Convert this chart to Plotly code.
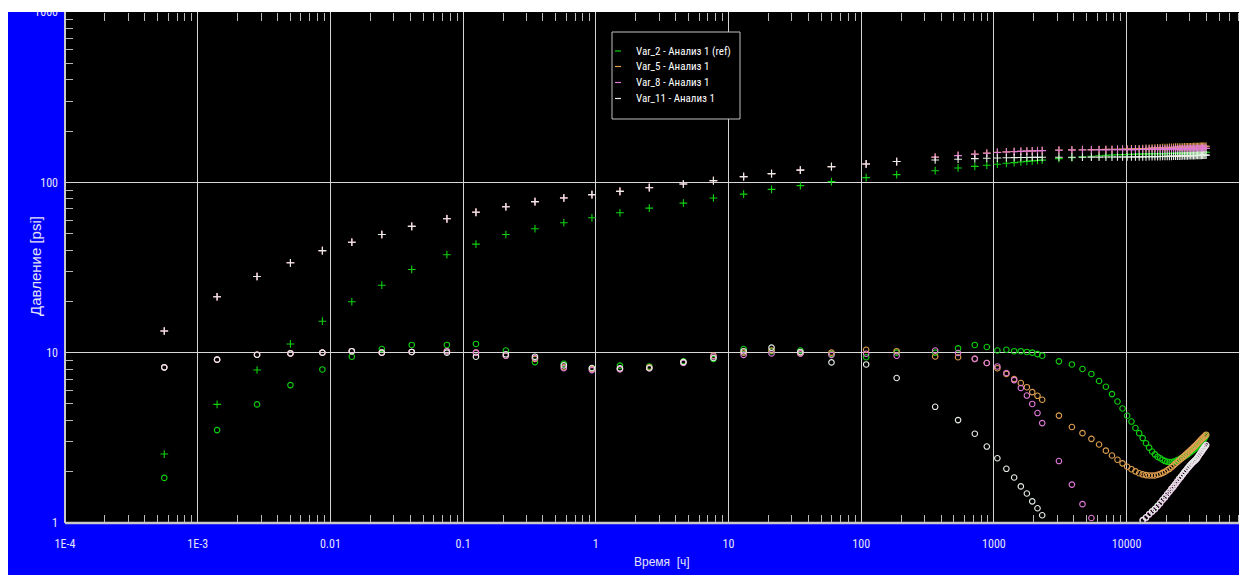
import plotly.graph_objects as go

# ---------------- data ----------------
time_h = [0.00056, 0.0014, 0.0028, 0.0050, 0.0087, 0.0145, 0.0244, 0.041, 0.0755, 0.125,
          0.21, 0.348, 0.574, 0.935, 1.52, 2.53, 4.57, 7.7, 13.0, 21.1,
          34.8, 59.7, 109, 185, 361, 537, 718, 884, 1062, 1242,
          1421, 1596, 1772, 1945, 2131, 2312,
          3090, 3870, 4650, 5430, 6200, 6980, 7760, 8540, 9320, 10100,
          10880, 11660, 12440, 13220, 14000, 14780, 15560, 16340, 17120, 17900,
          18680, 19460, 20240, 21020, 21800, 22580, 23360, 24140, 24920, 25700,
          26480, 27260, 28040, 28820, 29600, 30380, 31160, 31940, 32720, 33500,
          34280, 35060, 35840, 36620, 37400, 38180, 38960, 39740]

# pressure (+)
p_var2 = [2.54, 4.97, 7.91, 11.25, 15.3, 19.9, 24.9, 30.8, 37.6, 43.4,
          49.4, 53.4, 57.9, 61.9, 66.3, 70.6, 75.5, 80.9, 85.3, 90.9,
          95.6, 101, 106.6, 111, 117, 121.5, 124, 126, 127.8, 129.3,
          130.6, 131.7, 132.7, 133.6, 134.4, 135.1,
          137.7, 139.5, 141.0, 142.2, 143.2, 144.0, 144.6, 145.1, 145.5, 145.8,
          146.1, 146.3, 146.5, 146.7, 146.9, 147.0, 147.1, 147.2, 147.3, 147.4,
          147.5, 147.6, 147.7, 147.8, 147.9, 148.0, 148.1, 148.2, 148.3, 148.4,
          148.5, 148.6, 148.7, 148.8, 148.9, 149.0, 149.1, 149.2, 149.3, 149.4,
          149.5, 149.6, 149.7, 149.8, 149.9, 150.0, 150.1, 150.2]
p_var5 = [13.4, 21.3, 28.0, 33.7, 39.7, 44.5, 49.4, 55.1, 61.3, 66.9,
          71.9, 77.0, 81.2, 84.7, 88.5, 93.3, 97.8, 102.4, 108, 112.5,
          118, 123.7, 128.2, 132.4, 140.6, 143.8, 146.5, 148.5, 150.1, 150.9,
          151.6, 152.2, 152.7, 153.1, 153.5, 153.8,
          154.8, 155.2, 155.5, 155.7, 155.9, 156.1, 156.3, 156.5, 156.7, 156.9,
          157.1, 157.3, 157.5, 157.8, 158.1, 158.4, 158.7, 159.0, 159.3, 159.5,
          159.7, 159.9, 160.1, 160.3, 160.5, 160.7, 160.8, 160.9, 161.0, 161.1,
          161.2, 161.3, 161.4, 161.5, 161.6, 161.7, 161.8, 161.9, 162.0, 162.1,
          162.2, 162.3, 162.4, 162.5, 162.6, 162.7, 162.8, 162.9]
p_var8 = [13.4, 21.3, 28.0, 33.7, 39.7, 44.5, 49.4, 55.1, 61.1, 66.7,
          71.9, 77.0, 80.9, 84.7, 88.5, 93.0, 97.8, 102.4, 108, 112.5,
          118, 123.7, 128.2, 132.4, 140.3, 143.5, 146.2, 148.2, 149.8, 150.6,
          151.3, 151.9, 152.4, 152.8, 153.2, 153.5,
          154.2, 154.5, 154.7, 154.9, 155.0, 155.1, 155.2, 155.3, 155.4, 155.5,
          155.6, 155.7, 155.8, 155.9, 156.0, 156.1, 156.2, 156.3, 156.4, 156.5,
          156.6, 156.7, 156.8, 156.9, 156.9, 157.0, 157.1, 157.1, 157.2, 157.3,
          157.3, 157.4, 157.5, 157.5, 157.6, 157.7, 157.7, 157.8, 157.8, 157.9,
          157.9, 158.0, 158.0, 158.1, 158.1, 158.2, 158.2, 158.3]
p_var11 = [13.4, 21.3, 28.0, 33.7, 39.7, 44.5, 49.4, 55.1, 61.1, 66.7,
           71.9, 77.0, 80.9, 84.7, 88.5, 93.0, 97.8, 102.4, 108, 112.5,
           118, 123.7, 128.2, 132.4, 135.3, 136.7, 137.7, 138.4, 138.9, 139.3,
           139.6, 139.8, 140.0, 140.1, 140.2, 140.3,
           140.4, 140.5, 140.5, 140.6, 140.6, 140.7, 140.7, 140.8, 140.8, 140.9,
           140.9, 141.0, 141.0, 141.1, 141.2, 141.3, 141.4, 141.5, 141.6, 141.7,
           141.8, 141.9, 142.0, 142.1, 142.2, 142.3, 142.4, 142.5, 142.6, 142.7,
           142.8, 142.9, 143.0, 143.1, 143.2, 143.3, 143.4, 143.5, 143.6, 143.7,
           143.8, 143.9, 144.0, 144.1, 144.2, 144.3, 144.4, 144.5]

# derivative (o)
d_var2 = [1.84, 3.51, 4.97, 6.45, 7.97, 9.47, 10.5, 11.1, 11.1, 11.25,
          10.3, 8.8, 8.6, 8.1, 8.39, 8.3, 8.9, 9.2, 10.5, 10.2,
          10.3, 9.8, 9.4, 10.0, 10.0, 10.6, 11.1, 10.8, 10.3, 10.4,
          10.2, 10.2, 10.1, 10.0, 9.8, 9.6,
          8.89, 8.53, 8.02, 7.50, 6.82, 6.31, 5.71, 5.17, 4.70, 4.26,
          3.94, 3.61, 3.37, 3.15, 2.94, 2.77, 2.63, 2.53, 2.45, 2.40,
          2.35, 2.31, 2.29, 2.28, 2.28, 2.29, 2.31, 2.34, 2.36, 2.40,
          2.43, 2.46, 2.49, 2.53, 2.57, 2.61, 2.65, 2.69, 2.73, 2.78,
          2.83, 2.88, 2.93, 2.98, 3.03, 3.10, 3.18, 3.27]
d_var5 = [8.2, 9.1, 9.73, 9.9, 10.0, 10.2, 10.0, 10.1, 10.2, 10.0,
          9.6, 9.2, 8.2, 8.0, 8.0, 8.2, 8.8, 9.6, 10.0, 10.3,
          9.9, 10.0, 10.4, 10.2, 9.5, 9.4, 9.2, 8.7, 8.1, 7.5,
          7.0, 6.63, 6.27, 5.87, 5.58, 5.29,
          4.27, 3.66, 3.37, 3.12, 2.89, 2.66, 2.49, 2.35, 2.24, 2.14,
          2.07, 2.01, 1.96, 1.93, 1.91, 1.90, 1.90, 1.90, 1.92, 1.94,
          1.97, 2.00, 2.04, 2.08, 2.13, 2.18, 2.23, 2.28, 2.33, 2.38,
          2.43, 2.48, 2.53, 2.58, 2.63, 2.68, 2.73, 2.78, 2.83, 2.88,
          2.94, 2.99, 3.05, 3.10, 3.15, 3.20, 3.25, 3.30]
d_var8 = [8.2, 9.1, 9.73, 9.9, 10.0, 10.2, 10.0, 10.1, 10.2, 10.0,
          9.6, 9.3, 8.1, 7.9, 8.0, 8.1, 8.7, 9.5, 9.7, 9.9,
          9.9, 9.7, 9.85, 9.6, 10.3, 9.95, 9.2, 8.7, 8.3, 7.6,
          6.9, 6.2, 5.6, 5.0, 4.42, 3.86,
          2.31, 1.68, 1.29, 1.07, None, None, None, None, None, None,
          None, None, None, 1.03, 1.07, 1.12, 1.16, 1.20, 1.25, 1.30,
          1.36, 1.41, 1.47, 1.52, 1.58, 1.63, 1.69, 1.75, 1.81, 1.86,
          1.92, 1.98, 2.03, 2.09, 2.14, 2.19, 2.24, 2.28, 2.32, 2.36,
          2.42, 2.49, 2.55, 2.61, 2.68, 2.74, 2.80, 2.86]
d_var11 = [8.2, 9.1, 9.73, 9.9, 10.0, 10.2, 10.0, 10.1, 10.0, 9.47,
           9.78, 9.47, 8.42, 8.13, 8.1, 8.1, 8.8, 9.3, 10.2, 10.7,
           10.1, 8.77, 8.53, 7.1, 4.81, 4.02, 3.34, 2.81, 2.40, 2.08,
           1.85, 1.64, 1.49, 1.34, 1.22, 1.11,
           None, None, None, None, None, None, None, None, None, None,
           None, None, None, 1.04, 1.08, 1.13, 1.17, 1.21, 1.26, 1.31,
           1.37, 1.42, 1.48, 1.53, 1.59, 1.64, 1.70, 1.76, 1.82, 1.87,
           1.93, 1.99, 2.04, 2.10, 2.15, 2.20, 2.25, 2.29, 2.33, 2.37,
           2.43, 2.50, 2.56, 2.62, 2.69, 2.75, 2.81, 2.87]

series_names = ["Var_2 - Анализ 1 (ref)", "Var_5 - Анализ 1", "Var_8 - Анализ 1", "Var_11 - Анализ 1"]
series_colors = ["#10d010", "#e0a050", "#e07ad8", "#e6eee6"]
pressures = [p_var2, p_var5, p_var8, p_var11]
derivatives = [d_var2, d_var5, d_var8, d_var11]

x_tickvals = [1e-4, 1e-3, 1e-2, 1e-1, 1, 10, 100, 1000, 10000]
x_ticktext = ["1E-4", "1E-3", "0.01", "0.1", "1", "10", "100", "1000", "10000"]
y_tickvals = [1, 10, 100, 1000]
y_ticktext = ["1", "10", "100", "1000"]
x_title = "Время\u00a0 [ч]"
y_title = "Давление [psi]"

# ---------------- figure ----------------
# page body has an 8 px margin, so the figure starts at page (8, 8)
OFF = 8
W, H = 1247 - OFF, 575 - OFF
ML, MR, MT, MB = 65 - OFF, 7, 12 - OFF, 52
PW, PH = W - ML - MR, H - MT - MB

def px_x(px):           # page pixel -> paper
    return (px - OFF - ML) / PW

def px_y(py):
    return (H - MB - (py - OFF)) / PH

FONT = "Liberation Sans Narrow, Arial Narrow, Roboto Condensed, Liberation Sans, sans-serif"
TFONT = "Liberation Sans, Arial, sans-serif"
LABEL_COL = "#e4e4f4"
XRANGE = [-4, -4 + PW / 132.7]

fig = go.Figure()
for name, col, p, d in zip(series_names, series_colors, pressures, derivatives):
    fig.add_trace(go.Scatter(x=time_h, y=p, mode="markers", name=name, showlegend=False,
                             marker=dict(symbol="cross-thin", size=5.5, line=dict(width=1.1, color=col), color=col)))
    fig.add_trace(go.Scatter(x=time_h, y=d, mode="markers", name=name, showlegend=False,
                             marker=dict(symbol="circle-open", size=5.5, line=dict(width=1.1, color=col), color=col)))
# invisible helper trace so the mirror axis along the top edge is drawn
fig.add_trace(go.Scatter(x=time_h, y=p_var2, xaxis="x2", mode="markers", showlegend=False,
                         hoverinfo="skip", marker=dict(opacity=0, size=1)))

minor_x = [m * 10 ** e for e in range(-4, 5) for m in range(2, 10)]
minor_y = [m * 10 ** e for e in range(0, 3) for m in range(2, 10)]

fig.update_layout(
    xaxis=dict(type="log", range=XRANGE, automargin=False,
               tickmode="array", tickvals=x_tickvals, ticktext=x_ticktext,
               ticks="", showgrid=True, gridcolor="#d4d4d4", gridwidth=1,
               showline=False, zeroline=False, ticklabelstandoff=12,
               tickfont=dict(family=FONT, size=12, color=LABEL_COL),
               minor=dict(tickmode="array", tickvals=minor_x, ticks="inside", ticklen=8,
                          tickcolor="#b8b8b8", tickwidth=1, showgrid=False)),
    # axis placed on the top edge, ticks pointing down into the plot
    xaxis2=dict(type="log", range=XRANGE, overlaying="x", side="bottom",
                anchor="free", position=1, automargin=False,
                tickmode="array", tickvals=minor_x, ticks="outside", ticklen=8,
                tickcolor="#b8b8b8", tickwidth=1,
                showticklabels=False, showgrid=False, showline=False, zeroline=False),
    yaxis=dict(type="log", range=[0, 3], automargin=False,
               tickmode="array", tickvals=y_tickvals, ticktext=y_ticktext,
               ticks="", showgrid=True, gridcolor="#d8d8d8", gridwidth=1,
               showline=False, mirror="ticks", zeroline=False, ticklabelstandoff=6,
               ticklabeloverflow="allow",
               tickfont=dict(family=FONT, size=12, color=LABEL_COL),
               minor=dict(tickmode="array", tickvals=minor_y, ticks="inside", ticklen=8,
                          tickcolor="#b8b8b8", tickwidth=1, showgrid=False)),
)

shapes = [
    # axis lines (left and bottom)
    dict(type="line", xref="paper", yref="paper", x0=0, x1=1, y0=0, y1=0,
         line=dict(color="#c8c8c8", width=2.5), layer="above"),
    dict(type="line", xref="paper", yref="paper", x0=0, x1=0, y0=0, y1=1,
         line=dict(color="#c8c8c8", width=2), layer="above"),
    # white strip at the top (cropped screenshot edge)
    dict(type="rect", xref="paper", yref="paper", x0=-0.2, x1=1.2, y0=px_y(12), y1=px_y(-20),
         fillcolor="white", line=dict(width=0), layer="above"),
    # legend box
    dict(type="rect", xref="paper", yref="paper", x0=px_x(612), x1=px_x(740), y0=px_y(119), y1=px_y(32),
         fillcolor="black", line=dict(width=1, color="#c0c0c0"), layer="above"),
]
annotations = [
    dict(xref="paper", yref="paper", x=px_x(662), y=px_y(562), text=x_title, showarrow=False,
         xanchor="center", yanchor="middle", font=dict(family=TFONT, size=12, color=LABEL_COL)),
    dict(xref="paper", yref="paper", x=px_x(35), y=px_y(266), text=y_title, showarrow=False,
         textangle=-90, xanchor="center", yanchor="middle",
         font=dict(family=TFONT, size=15, color=LABEL_COL)),
]
rows = [51, 66.5, 82.5, 98.5]
for name, col, ry in zip(series_names, series_colors, rows):
    shapes.append(dict(type="line", xref="paper", yref="paper", x0=px_x(615), x1=px_x(621),
                       y0=px_y(ry), y1=px_y(ry), line=dict(color=col, width=1.2), layer="above"))
    annotations.append(dict(xref="paper", yref="paper", x=px_x(634), y=px_y(ry), text=name,
                            showarrow=False, xanchor="left", yanchor="middle",
                            font=dict(family=FONT, size=11, color="#ffffff")))

fig.update_layout(width=W, height=H, margin=dict(l=ML, r=MR, t=MT, b=MB, pad=0, autoexpand=False),
                  paper_bgcolor="#0000ff", plot_bgcolor="black",
                  shapes=shapes, annotations=annotations, showlegend=False)

fig.write_html("out.html")
